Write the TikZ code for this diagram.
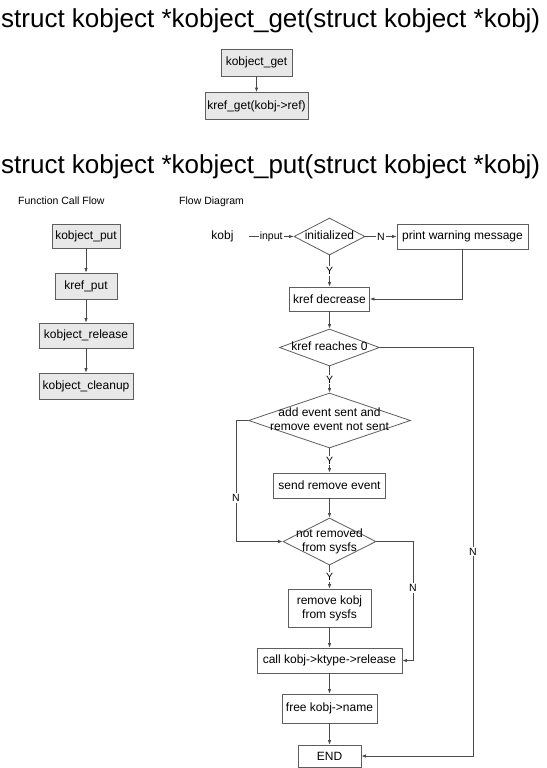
\documentclass[tikz,border=0pt]{standalone}
\usepackage{fontspec}
\setmainfont{Liberation Sans}
\usetikzlibrary{shapes.geometric,arrows.meta}
\definecolor{bordergray}{HTML}{5E5E5E}
\definecolor{linegray}{HTML}{4A4A4A}
\definecolor{boxgray}{HTML}{E8E8E8}
\newcommand{\dtext}[1]{\makebox[0pt]{\begin{tabular}{@{}c@{}}#1\end{tabular}}}
\begin{document}
\begin{tikzpicture}[x=1pt,y=-1pt,
  every node/.style={font=\fontsize{12}{14}\selectfont, text=black},
  title/.style={anchor=base west, inner sep=0pt, font=\fontsize{26}{30}\selectfont},
  caption/.style={anchor=base west, inner sep=0pt, font=\fontsize{10.5}{12}\selectfont},
  sz/.style 2 args={minimum width=#1pt, minimum height=#2pt},
  box/.style={draw=bordergray, line width=0.8pt, fill=white, inner sep=0pt, align=center},
  gbox/.style={box, fill=boxgray},
  dia/.style={draw=bordergray, line width=0.8pt, fill=white, diamond, inner sep=0pt},
  conn/.style={draw=linegray, line width=0.8pt, -{Latex[length=4.5pt,width=3.5pt]}},
  lab/.style={fill=white, inner sep=1pt, font=\fontsize{10.5}{12}\selectfont}
]
\useasboundingbox (0,0) rectangle (546,768);

% titles
\node[title] (t1) at (1,28) {struct kobject *kobject\_get(struct kobject *kobj)};
\node[title] (t2) at (1,173) {struct kobject *kobject\_put(struct kobject *kobj)};
\node[caption] (fcf) at (18,204) {Function Call Flow};
\node[caption] (fd) at (179,204) {Flow Diagram};

% kobject_get
\node[gbox, sz={71}{27}] (kg) at (256.5,62.5) {kobject\_get};
\node[gbox, sz={103}{27}] (krg) at (256.5,106) {kref\_get(kobj->ref)};
\draw[conn] (kg) -- (krg);

% function call flow
\node[gbox, sz={68}{24}] (kp) at (86,236) {kobject\_put};
\node[gbox, sz={62}{26}] (krp) at (86,286) {kref\_put};
\node[gbox, sz={94}{25}] (krel) at (86,335.5) {kobject\_release};
\node[gbox, sz={94}{26}] (kcl) at (86,386) {kobject\_cleanup};
\draw[conn] (kp) -- (krp);
\draw[conn] (krp) -- (krel);
\draw[conn] (krel) -- (kcl);

% flow diagram
\node[inner sep=0pt] (kobj) at (222.5,236.5) {kobj};
\node[dia, sz={71}{37}] (init) at (329.5,236.5) {\dtext{initialized}};
\node[box, sz={131}{25}] (pw) at (462.5,236.5) {print warning message};
\node[box, sz={80}{24}] (kd) at (329.5,299) {kref decrease};
\node[dia, sz={100}{37}] (kr0) at (329.5,347.5) {\dtext{kref reaches 0}};
\node[dia, sz={162}{55}] (add) at (329.5,420.5) {\dtext{add event sent and\\remove event not sent}};
\node[box, sz={112}{25}] (sre) at (329.5,485.5) {send remove event};
\node[dia, sz={93}{47}] (notrem) at (329.5,541.5) {\dtext{not removed\\from sysfs}};
\node[box, sz={83}{38}] (rk) at (329.5,608) {remove kobj\\from sysfs};
\node[box, sz={145}{25}] (call) at (329.5,660.5) {call kobj->ktype->release};
\node[box, sz={95}{29}] (free) at (329.5,708.5) {free kobj->name};
\node[box, sz={63}{22}] (end) at (329.5,756) {END};

\coordinate (lx) at (236,0);
\coordinate (rx) at (413,0);
\coordinate (fx) at (473,0);

\draw[conn] ([xshift=15pt]kobj.east) -- node[lab]{input} (init.west);
\draw[conn] (init.east) -- node[lab]{N} (pw.west);
\draw[conn] (init.south) -- node[lab]{Y} (kd.north);
\draw[conn] (pw.south) |- (kd.east);
\draw[conn] (kd.south) -- (kr0.north);
\draw[conn] (kr0.south) -- node[lab]{Y} (add.north);
\draw[conn] (add.south) -- node[lab]{Y} (sre.north);
\draw[conn] (sre.south) -- (notrem.north);
\draw[conn] (notrem.south) -- node[lab]{Y} (rk.north);
\draw[conn] (rk.south) -- (call.north);
\draw[conn] (call.south) -- (free.north);
\draw[conn] (free.south) -- (end.north);
\draw[conn] (add.west) -- (add.west -| lx) -- node[lab,pos=0.64]{N} (notrem.west -| lx) -- (notrem.west);
\draw[conn] (notrem.east) -- (notrem.east -| rx) -- node[lab,pos=0.39]{N} (call.east -| rx) -- (call.east);
\draw[conn] (kr0.east) -- (kr0.east -| fx) -- node[lab]{N} (end.east -| fx) -- (end.east);
\end{tikzpicture}
\end{document}
